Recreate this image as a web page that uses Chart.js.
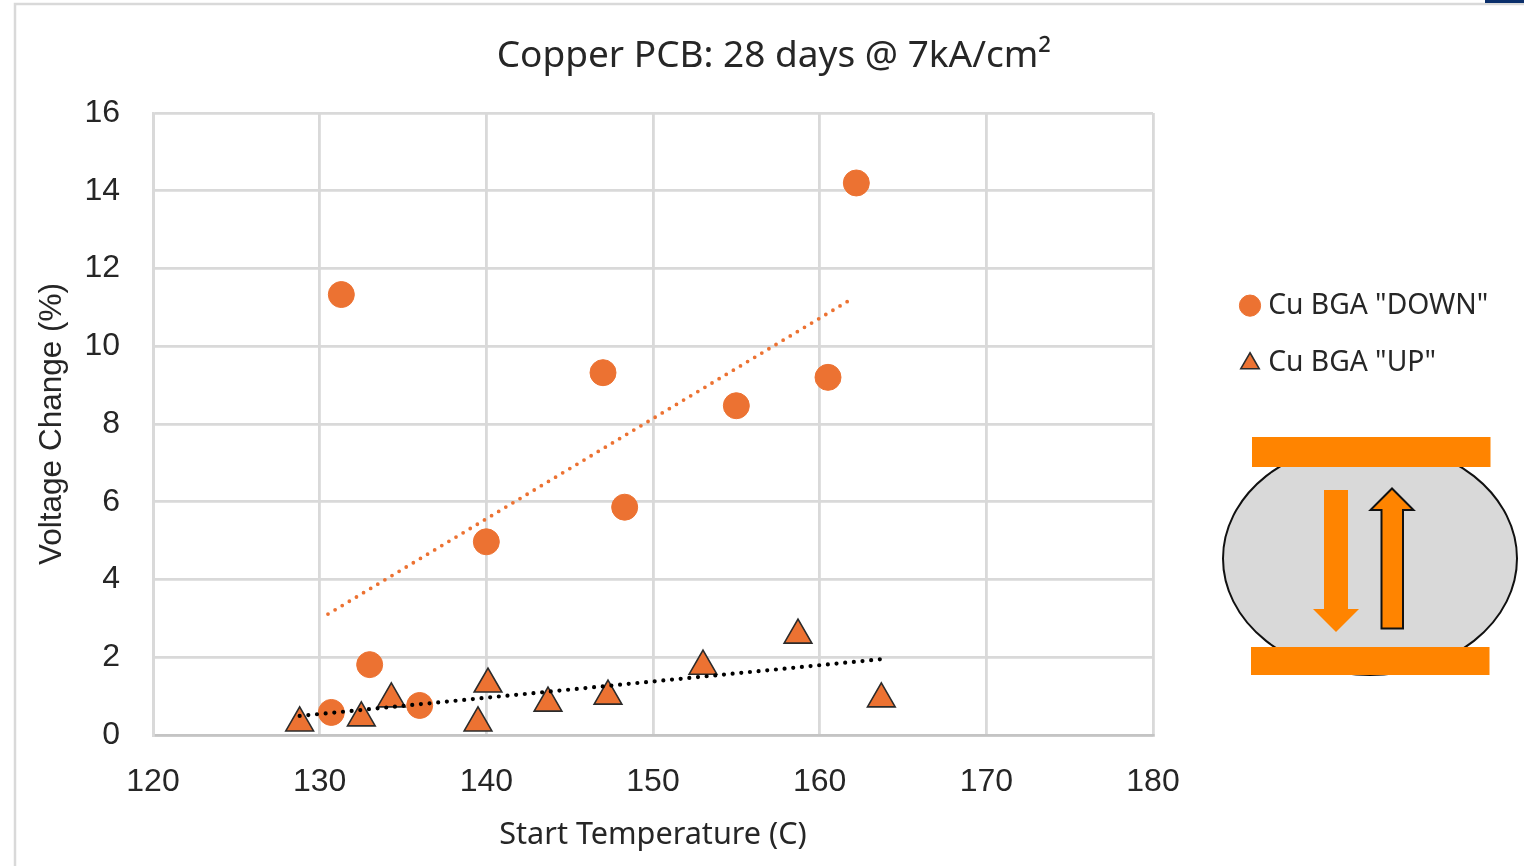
<!DOCTYPE html>
<html>
<head>
<meta charset="utf-8">
<style>
html,body{margin:0;padding:0;background:#fff;width:1524px;height:866px;overflow:hidden}
#wrap{position:relative;width:1524px;height:866px}
canvas{position:absolute;left:0;top:0}
svg{position:absolute;left:0;top:0;pointer-events:none}
</style>
<script src="https://cdn.jsdelivr.net/npm/chart.js@4"></script>
</head>
<body>
<div id="wrap">
<canvas id="c" width="1524" height="866"></canvas>
<svg width="1524" height="866" viewBox="0 0 1524 866">
  <rect x="15" y="4" width="1520" height="870" fill="none" stroke="#d9d9d9" stroke-width="2.5"/>
  <rect x="1485" y="0" width="39" height="3" fill="#0b2f6b"/>
  <ellipse cx="1370" cy="558.5" rx="147" ry="116.5" fill="#d9d9d9" stroke="#111" stroke-width="2"/>
  <rect x="1252" y="437" width="238.500" height="30" fill="#ff8400"/>
  <rect x="1251" y="647" width="238.500" height="28" fill="#ff8400"/>
  <polygon points="1324,490 1348,490 1348,609 1359,609 1336,632 1313,609 1324,609" fill="#ff8400"/>
  <polygon points="1381.500,628.500 1403,628.500 1403,510 1413.500,510 1392,488.500 1370.500,510 1381.500,510" fill="#ff8400" stroke="#111" stroke-width="2"/>
</svg>
</div>
<script>
const titleText = 'Copper PCB: 28 days @ 7kA/cm\u00B2';
const xAxisTitle = 'Start Temperature (C)';
const yAxisTitle = 'Voltage Change (%)';
const seriesDownName = 'Cu BGA "DOWN"';
const seriesUpName = 'Cu BGA "UP"';
const xTicks = [120,130,140,150,160,170,180];
const yTicks = [0,2,4,6,8,10,12,14,16];
const downX = [131.3,147.0,155.0,160.5,162.2,148.3,140.0,133.0,130.7,136.0];
const downY = [11.33,9.32,8.47,9.2,14.2,5.86,4.97,1.81,0.58,0.76];
const upX = [128.8,132.5,134.3,139.5,140.1,143.7,147.3,153.0,158.7,163.7];
const upY = [0.31,0.44,0.93,0.31,1.31,0.82,1.0,1.77,2.57,0.93];
const downTrendX = [130.5,162.05];
const downTrendY = [3.11,11.25];
const upTrendX = [128.8,163.7];
const upTrendY = [0.49,1.95];

const pts = (xs,ys) => xs.map((x,i)=>({x,y:ys[i]}));
const ORANGE = '#ec7232';
const TEXT = '#262626';
const GRID = '#d9d9d9';
const FRAME = {left:153,right:1153,top:113,bottom:735};

const placeBoxes = {
  id:'placeBoxes',
  afterLayout(chart){
    const t = chart.titleBlock;
    t.left = 774 - 400; t.right = 774 + 400;
    const l = chart.legend;
    l.left = 1216.5; l.right = 1524; l.top = 262; l.bottom = 600; l.width = 307.5; l.height = 338;
  }
};

new Chart(document.getElementById('c'),{
  type:'scatter',
  data:{datasets:[
    {label:seriesDownName,data:pts(downX,downY),pointStyle:'circle',radius:13,borderWidth:1,
     backgroundColor:ORANGE,borderColor:ORANGE,order:3,clip:false},
    {label:seriesUpName,data:pts(upX,upY),pointStyle:'triangle',radius:16,borderWidth:1.6,
     backgroundColor:ORANGE,borderColor:'#2b2b2b',order:2,clip:false},
    {label:'trendDown',data:pts(downTrendX,downTrendY),showLine:true,radius:0,borderColor:ORANGE,
     borderWidth:3.8,borderDash:[0,8.3],borderCapStyle:'round',order:4,fill:false},
    {label:'trendUp',data:pts(upTrendX,upTrendY),showLine:true,radius:0,borderColor:'#000',
     borderWidth:4.2,borderDash:[0,8.7],borderCapStyle:'round',order:1,fill:false}
  ]},
  plugins:[placeBoxes],
  options:{
    responsive:false,animation:false,
    layout:{padding:{left:0,right:371,top:0,bottom:0}},
    plugins:{
      tooltip:{enabled:false},
      title:{display:true,text:titleText,color:TEXT,
        font:{family:'"Noto Sans"',size:37,weight:'normal',lineHeight:1},
        padding:{top:38,bottom:38}},
      legend:{position:'chartArea',align:'start',
        labels:{usePointStyle:true,boxHeight:15,boxWidth:8,padding:29.5,color:TEXT,
          font:{family:'"Noto Sans"',size:28.25},
          sort:(a,b)=>a.datasetIndex-b.datasetIndex,
          filter:i=>i.text===seriesDownName||i.text===seriesUpName}}
    },
    scales:{
      x:{type:'linear',min:120,max:180,
        afterBuildTicks(s){s.ticks=xTicks.map(v=>({value:v}));},
        afterFit(s){s.height=866-FRAME.bottom;},
        grid:{color:GRID,lineWidth:2.8,drawTicks:false},
        border:{color:'#c4c4c4',width:2.8},
        ticks:{padding:28,color:TEXT,maxRotation:0,autoSkip:false,font:{family:'"Liberation Sans"',size:32}},
        title:{display:true,text:xAxisTitle,color:TEXT,font:{family:'"Noto Sans"',size:30.6,lineHeight:1},padding:{top:0,bottom:15}}},
      y:{type:'linear',min:0,max:16,
        afterBuildTicks(s){s.ticks=yTicks.map(v=>({value:v}));},
        afterFit(s){s.width=FRAME.left;},
        grid:{color:GRID,lineWidth:2.8,drawTicks:false},
        border:{color:GRID,width:2.8},
        ticks:{padding:33,color:TEXT,autoSkip:false,font:{family:'"Liberation Sans"',size:32}},
        title:{display:true,text:yAxisTitle,color:TEXT,font:{family:'"Liberation Sans"',size:31.500,lineHeight:1},padding:{top:37,bottom:0}}}
    }
  }
});
</script>
</body>
</html>
